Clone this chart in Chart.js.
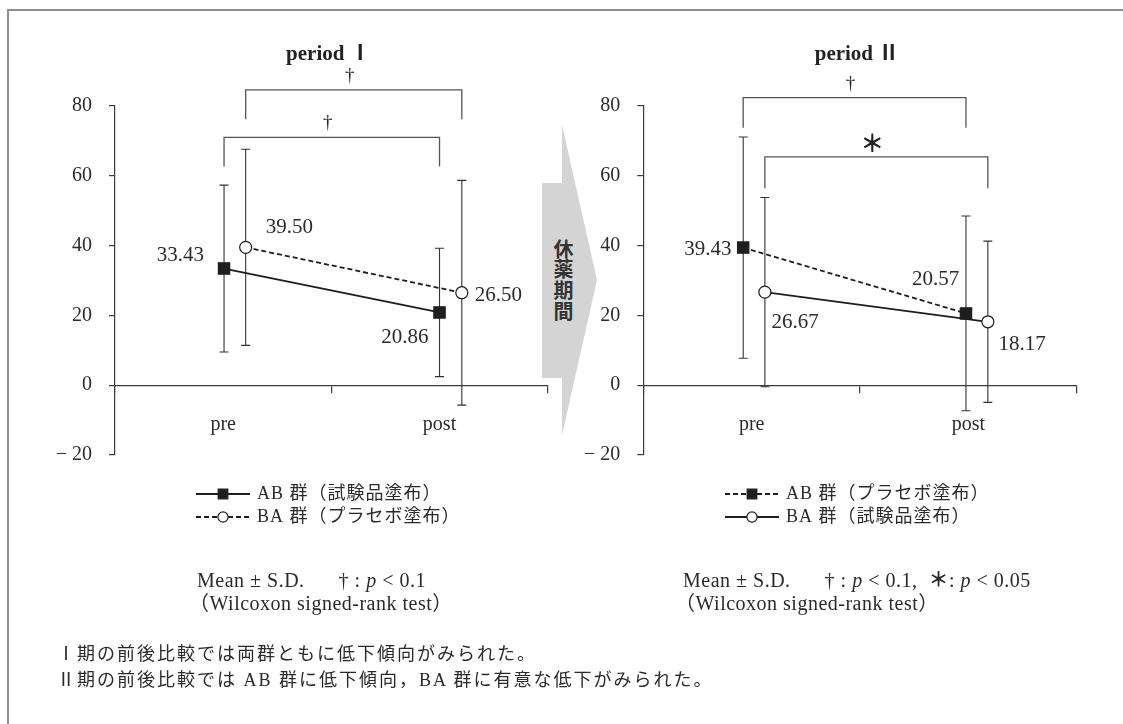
<!DOCTYPE html>
<html lang="ja">
<head>
<meta charset="utf-8">
<title>period Ⅰ / period Ⅱ</title>
<script src="https://cdn.jsdelivr.net/npm/chart.js@4.4.1/dist/chart.umd.min.js"></script>
<style>
  html, body { margin: 0; padding: 0; background: #fff; }
  #fig { position: relative; width: 1123px; height: 724px; overflow: hidden; background: #fff; }
  #fig canvas { position: absolute; left: 0; top: 0; }
  .frame { position: absolute; left: 7px; top: 9px; width: 1300px; height: 900px;
           border-top: 2px solid #8e8e8e; border-left: 2px solid #8e8e8e; }
  .txt { position: absolute; white-space: nowrap; color: #2a2a2a; line-height: 1;
         font-family: 'Liberation Serif', 'Noto Sans CJK JP', serif; }
  .stat { font-size: 20px; letter-spacing: 0.5px; }
  .stat .gap { display: inline-block; width: 34px; }
  .note { font-size: 18px; letter-spacing: 2px; }
  .rest { position: absolute; left: 553px; top: 239px; writing-mode: vertical-rl;
          font: bold 20px 'Noto Sans CJK JP', sans-serif; color: #333; letter-spacing: 0.7px; line-height: 20px; }
</style>
</head>
<body>
<div id="fig">
  <div class="frame"></div>
  <svg width="1123" height="724" style="position:absolute;left:0;top:0">
    <polygon points="542,183 562,183 562,125 597,280 562,435 562,378 542,378" fill="#d4d4d4"/>
  </svg>
  <div class="rest">休薬期間</div>
  <canvas id="periodOne" width="1123" height="724"></canvas>
  <canvas id="periodTwo" width="1123" height="724"></canvas>

  <div class="txt stat" style="left:197px;top:570px">Mean ± S.D.<span class="gap"></span>† : <i>p</i> &lt; 0.1</div>
  <div class="txt stat" style="left:189px;top:593px">（Wilcoxon signed-rank test）</div>
  <div class="txt stat" style="left:683px;top:570px">Mean ± S.D.<span class="gap"></span>† : <i>p</i> &lt; 0.1,&nbsp; <b>＊</b>: <i>p</i> &lt; 0.05</div>
  <div class="txt stat" style="left:675px;top:593px">（Wilcoxon signed-rank test）</div>

  <div class="txt note" style="left:57px;top:645px">Ⅰ期の前後比較では両群ともに低下傾向がみられた。</div>
  <div class="txt note" style="left:57px;top:671px">Ⅱ期の前後比較では AB 群に低下傾向，BA 群に有意な低下がみられた。</div>
</div>

<script>
// ---- values (mean and S.D. per time point) ----
const timepoints = ['pre', 'post'];
const yTicks = [-20, 0, 20, 40, 60, 80];

const p1Title = 'period Ⅰ';
const p1Labels = ['AB 群（試験品塗布）', 'BA 群（プラセボ塗布）'];
const p1AB = [33.43, 20.86];
const p1ABsd = [23.9, 18.4];
const p1BA = [39.50, 26.50];
const p1BAsd = [28.1, 32.2];

const p2Title = 'period Ⅱ';
const p2Labels = ['AB 群（プラセボ塗布）', 'BA 群（試験品塗布）'];
const p2AB = [39.43, 20.57];
const p2ABsd = [31.7, 27.9];
const p2BA = [26.67, 18.17];
const p2BAsd = [27.1, 23.1];

// pre vs post comparisons: [group, mark]
const p1Sig = [['BA', '†'], ['AB', '†']];
const p2Sig = [['AB', '†'], ['BA', '＊']];

// ---- drawing ----
const W = 1123, H = 724;
const INK = '#1e1e1e';
const AXIS = '#3c3c3c';
const SERIF = "'Liberation Serif', 'Noto Sans CJK JP', serif";
const Y_AXIS_W = 80;

function makeFigurePlugin(spec) {
  return {
    id: 'figure',
    beforeDatasetsDraw(chart) {
      // S.D. whiskers behind the lines and markers
      const ctx = chart.ctx, ys = chart.scales.y;
      ctx.save();
      ctx.strokeStyle = '#333';
      ctx.lineWidth = 1.1;
      chart.data.datasets.forEach((ds, i) => {
        const meta = chart.getDatasetMeta(i);
        ds.data.forEach((pt, j) => {
          const x = meta.data[j].x;
          const top = ys.getPixelForValue(pt.y + ds.sd[j]);
          const bot = ys.getPixelForValue(pt.y - ds.sd[j]);
          ctx.beginPath();
          ctx.moveTo(x, top); ctx.lineTo(x, bot);
          ctx.moveTo(x - 4.5, top); ctx.lineTo(x + 4.5, top);
          ctx.moveTo(x - 4.5, bot); ctx.lineTo(x + 4.5, bot);
          ctx.stroke();
        });
      });
      ctx.restore();
    },
    afterDatasetsDraw(chart) {
      const ctx = chart.ctx, ys = chart.scales.y, area = chart.chartArea;
      ctx.save();

      // heading
      ctx.fillStyle = '#222';
      ctx.textAlign = 'center';
      ctx.textBaseline = 'middle';
      ctx.font = 'bold 21px ' + SERIF;
      ctx.fillText(spec.title, (area.left + area.right) / 2 - 3, 55);

      // value labels next to each mean
      ctx.font = '21px ' + SERIF;
      ctx.fillStyle = '#2b2b2b';
      spec.series.forEach((s, i) => {
        const meta = chart.getDatasetMeta(i);
        s.values.forEach((v, j) => {
          const [dx, dy, align] = s.labelPos[j];
          ctx.textAlign = align;
          ctx.fillText(v.toFixed(2), meta.data[j].x + dx, meta.data[j].y + dy);
        });
      });

      // significance brackets
      ctx.strokeStyle = '#555';
      ctx.lineWidth = 1.3;
      spec.brackets.forEach(b => {
        const idx = spec.series.findIndex(s => s.key === b.group);
        const pts = chart.getDatasetMeta(idx).data;
        const x1 = pts[0].x, x2 = pts[1].x;
        const y = ys.getPixelForValue(b.y), yl = ys.getPixelForValue(b.leg);
        ctx.beginPath();
        ctx.moveTo(x1, yl); ctx.lineTo(x1, y); ctx.lineTo(x2, y); ctx.lineTo(x2, yl);
        ctx.stroke();
        ctx.fillStyle = '#222';
        ctx.textAlign = 'center';
        ctx.font = b.mark === '†' ? '19px ' + SERIF : "bold 24px 'Noto Sans CJK JP', sans-serif";
        ctx.fillText(b.mark, (x1 + x2) / 2 - 4, y - 14);
      });

      // legend built from the dataset styles
      const lg = spec.legend;
      chart.data.datasets.forEach((ds, i) => {
        const cy = lg.rows[i];
        ctx.strokeStyle = INK;
        ctx.lineWidth = 1.8;
        ctx.setLineDash(ds.borderDash);
        ctx.beginPath();
        ctx.moveTo(lg.x, cy); ctx.lineTo(lg.x + 54, cy);
        ctx.stroke();
        ctx.setLineDash([]);
        ctx.fillStyle = ds.pointBackgroundColor;
        ctx.strokeStyle = ds.pointBorderColor;
        ctx.lineWidth = ds.pointBorderWidth;
        Chart.helpers.drawPoint(ctx, {
          pointStyle: ds.pointStyle, rotation: 0,
          radius: ds.pointRadius * 0.85, borderWidth: ds.pointBorderWidth
        }, lg.x + 27, cy);
        ctx.fillStyle = '#2a2a2a';
        ctx.textAlign = 'left';
        ctx.font = '18px ' + SERIF;
        if ('letterSpacing' in ctx) ctx.letterSpacing = '1px';
        ctx.fillText(ds.label, lg.x + 61, cy);
        if ('letterSpacing' in ctx) ctx.letterSpacing = '0px';
      });
      ctx.restore();
    }
  };
}

function buildChart(canvasId, spec) {
  const datasets = spec.series.map(s => ({
    label: s.label,
    data: s.values.map((v, i) => ({ x: i + 0.5 + s.shift[i], y: v })),
    sd: s.sd,
    borderColor: INK,
    borderWidth: 1.8,
    borderDash: s.dash,
    pointStyle: s.marker,
    pointRadius: s.marker === 'rect' ? 8 : 6,
    pointBackgroundColor: s.marker === 'rect' ? INK : '#ffffff',
    pointBorderColor: INK,
    pointBorderWidth: 1.2,
    tension: 0,
    fill: false
  }));

  return new Chart(document.getElementById(canvasId), {
    type: 'line',
    data: { datasets },
    options: {
      responsive: false,
      animation: false,
      events: [],
      layout: {
        padding: {
          left: spec.area.left - Y_AXIS_W,
          right: W - spec.area.right,
          top: spec.area.top,
          bottom: H - spec.area.bottom
        }
      },
      plugins: { legend: { display: false }, tooltip: { enabled: false } },
      scales: {
        x: {
          type: 'linear',
          min: 0,
          max: timepoints.length,
          position: { y: 0 },
          afterBuildTicks: sc => {
            const t = [];
            for (let i = 0; i <= timepoints.length * 2; i++) t.push({ value: i / 2 });
            sc.ticks = t;
          },
          afterFit: sc => { sc.height = 0; },
          grid: {
            drawOnChartArea: false,
            tickLength: 7,
            lineWidth: 1.2,
            color: c => (c.tick && Number.isInteger(c.tick.value)) ? AXIS : 'rgba(0,0,0,0)'
          },
          border: { display: true, color: AXIS, width: 1.2 },
          ticks: {
            autoSkip: false,
            maxRotation: 0,
            padding: 21,
            color: '#2b2b2b',
            font: { family: SERIF, size: 20 },
            callback: v => {
              const i = v - 0.5;
              return Number.isInteger(i) ? timepoints[i] : '';
            }
          }
        },
        y: {
          min: yTicks[0],
          max: yTicks[yTicks.length - 1],
          afterBuildTicks: sc => { sc.ticks = yTicks.map(v => ({ value: v })); },
          afterFit: sc => { sc.width = Y_AXIS_W; },
          grid: { drawOnChartArea: false, tickLength: 6, lineWidth: 1.2, color: AXIS },
          border: { display: true, color: AXIS, width: 1.2 },
          ticks: {
            padding: 17,
            color: '#2b2b2b',
            font: { family: SERIF, size: 20 },
            callback: v => (v < 0 ? '− ' + Math.abs(v) : String(v))
          }
        }
      }
    },
    plugins: [makeFigurePlugin(spec)]
  });
}

buildChart('periodOne', {
  title: p1Title,
  area: { left: 115, right: 547.7, top: 106, bottom: 455 },
  series: [
    { key: 'AB', label: p1Labels[0], values: p1AB, sd: p1ABsd, marker: 'rect', dash: [],
      shift: [0.004, 0], labelPos: [[-20, -12.6, 'right'], [-11, 25, 'right']] },
    { key: 'BA', label: p1Labels[1], values: p1BA, sd: p1BAsd, marker: 'circle', dash: [5, 3],
      shift: [0.104, 0.103], labelPos: [[20, -20, 'left'], [13, 2.5, 'left']] }
  ],
  brackets: [
    { group: p1Sig[0][0], mark: p1Sig[0][1], y: 84.6, leg: 76.2 },
    { group: p1Sig[1][0], mark: p1Sig[1][1], y: 71.0, leg: 62.7 }
  ],
  legend: { x: 196, rows: [494, 517] }
});

buildChart('periodTwo', {
  title: p2Title,
  area: { left: 643.3, right: 1076.7, top: 106, bottom: 455 },
  series: [
    { key: 'AB', label: p2Labels[0], values: p2AB, sd: p2ABsd, marker: 'rect', dash: [5, 3],
      shift: [-0.039, -0.011], labelPos: [[-11.6, 1.6, 'right'], [-6.7, -33.5, 'right']] },
    { key: 'BA', label: p2Labels[1], values: p2BA, sd: p2BAsd, marker: 'circle', dash: [],
      shift: [0.061, 0.090], labelPos: [[6.7, 30.4, 'left'], [10.6, 22.4, 'left']] }
  ],
  brackets: [
    { group: p2Sig[0][0], mark: p2Sig[0][1], y: 82.4, leg: 73.8 },
    { group: p2Sig[1][0], mark: p2Sig[1][1], y: 65.4, leg: 56.4 }
  ],
  legend: { x: 725, rows: [494, 517] }
});
</script>
</body>
</html>
